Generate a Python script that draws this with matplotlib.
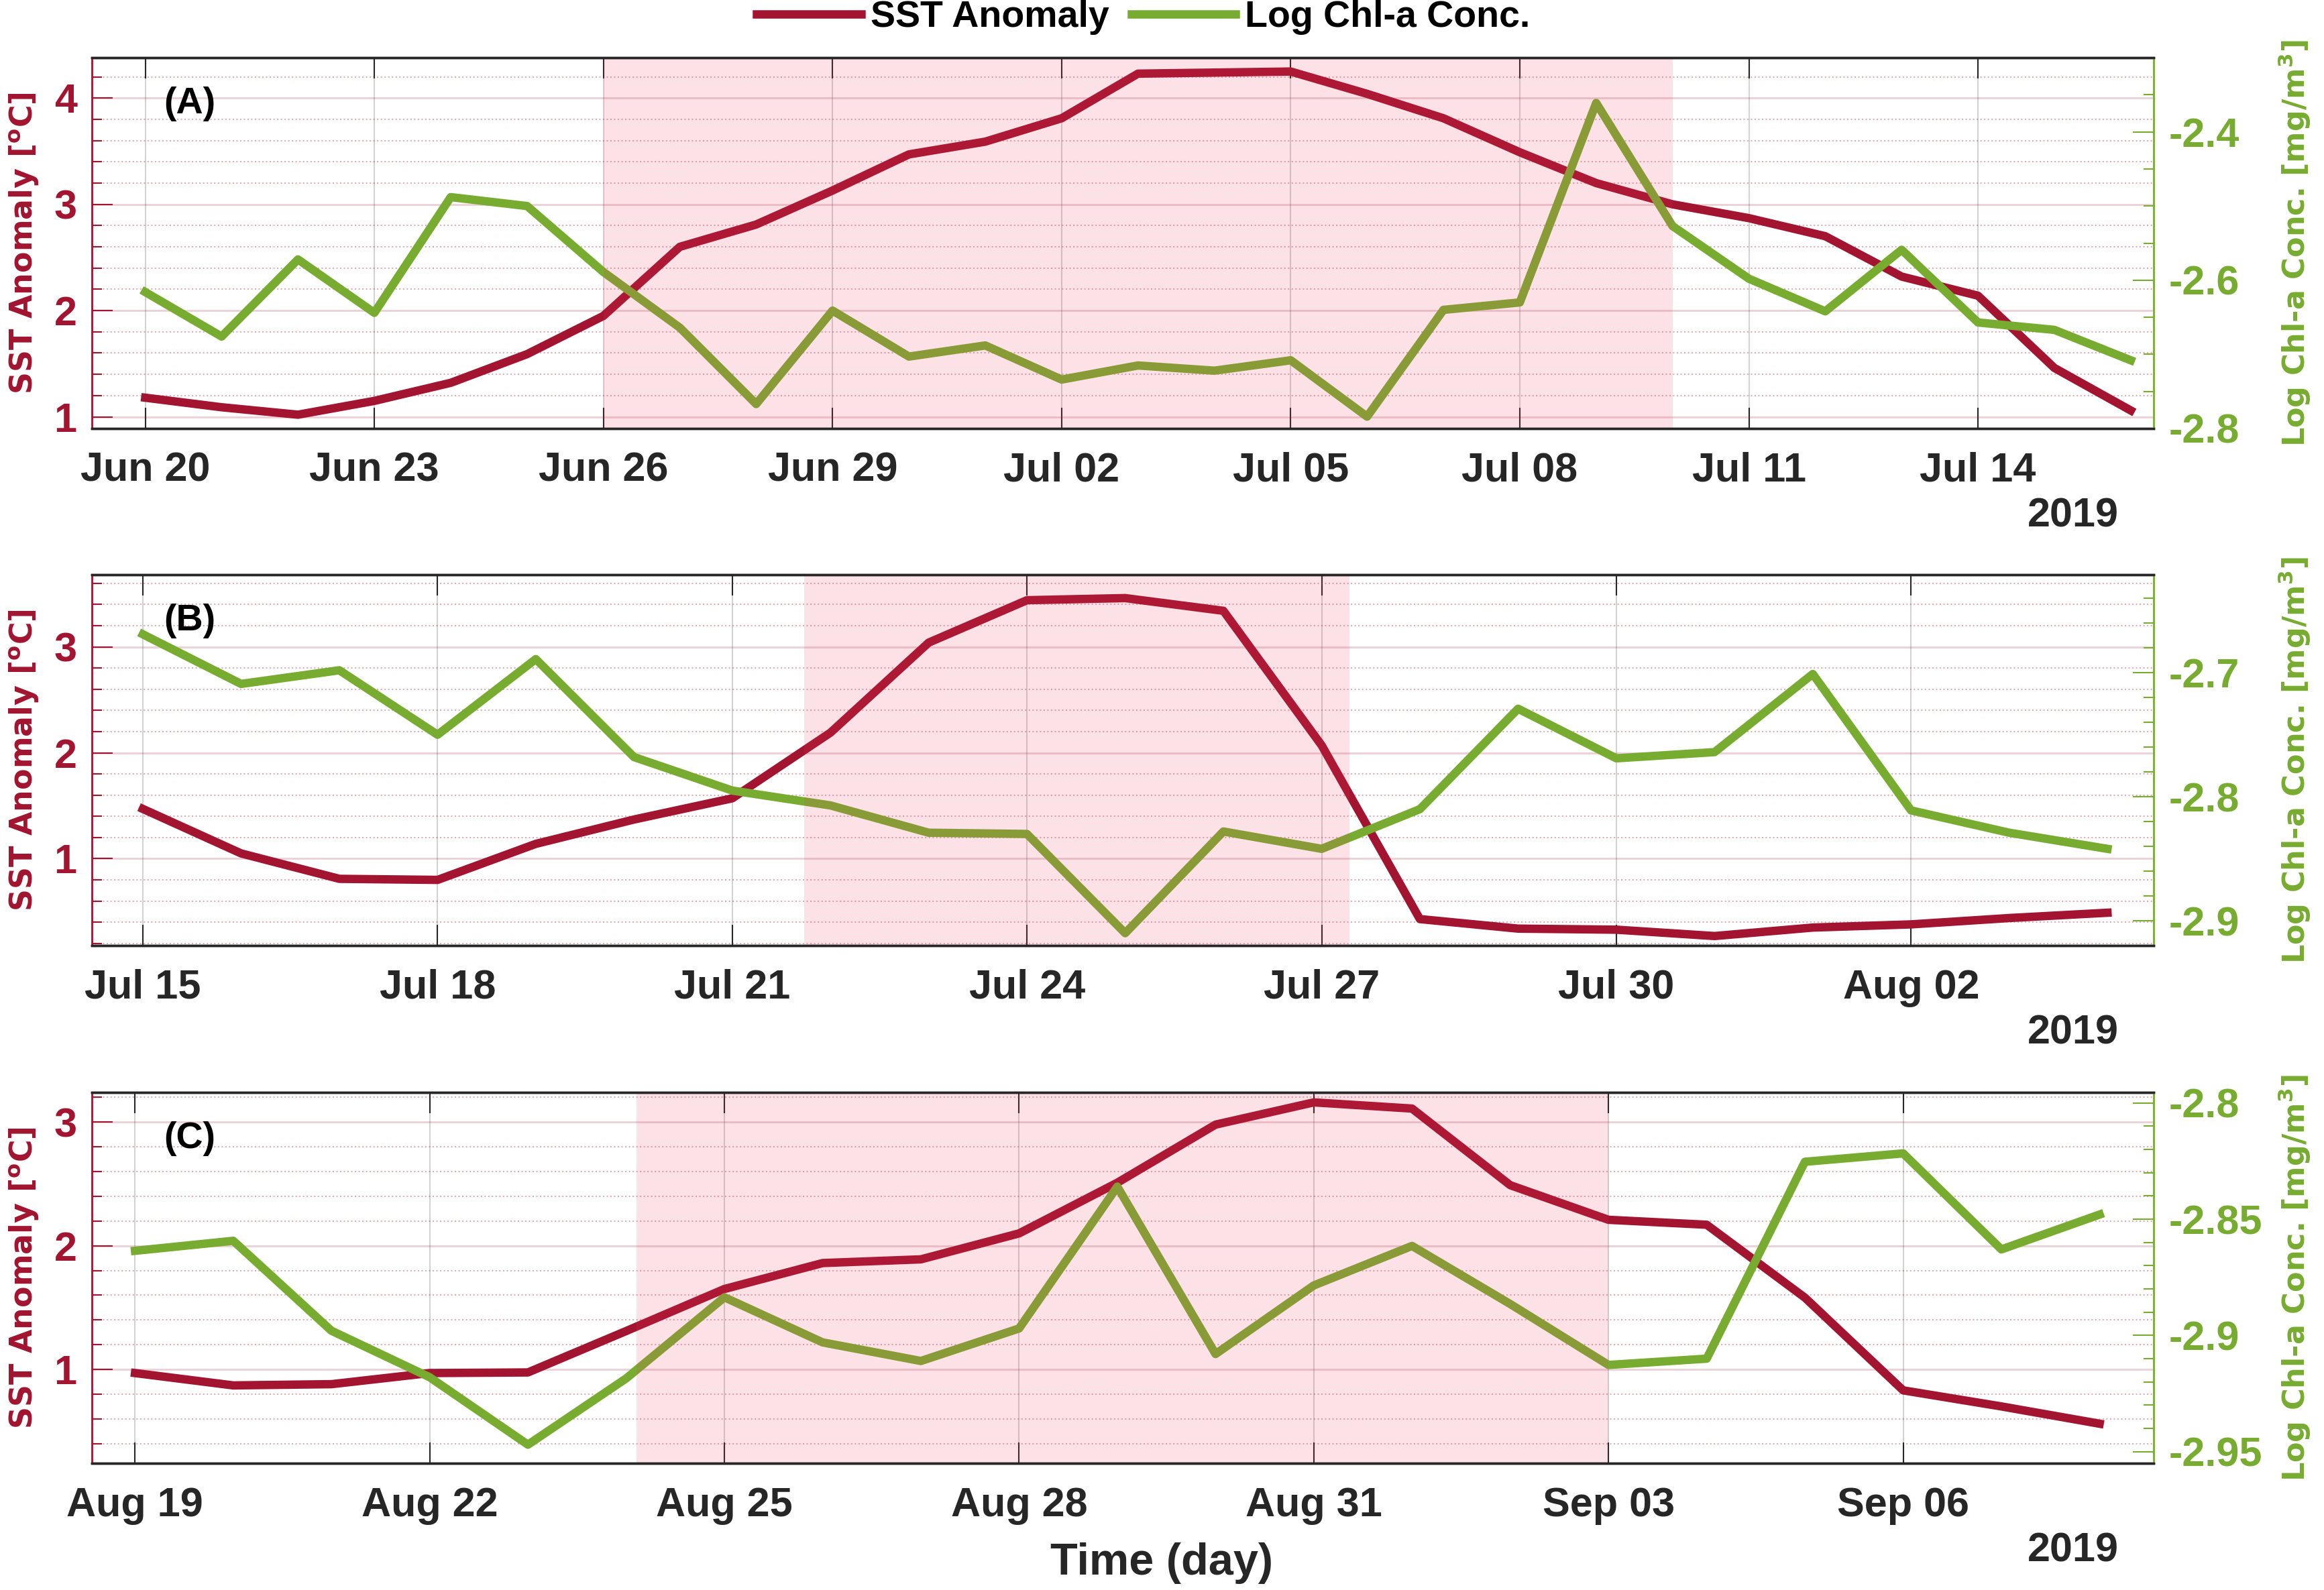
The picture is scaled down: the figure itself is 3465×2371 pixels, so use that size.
import numpy as np
import pandas as pd
import matplotlib
matplotlib.use('Agg')
import matplotlib.pyplot as plt
import matplotlib.dates as mdates
from matplotlib.ticker import FixedLocator, MultipleLocator, FuncFormatter

# ---- data ----
start_a = '2019-06-20'
sst_a = [1.18, 1.09, 1.02, 1.15, 1.32, 1.59, 1.95, 2.60, 2.81, 3.13, 3.47, 3.59, 3.81, 4.23,
         4.24, 4.25, 4.04, 3.81, 3.49, 3.20, 3.00, 2.87, 2.70, 2.32, 2.14, 1.46, 1.06]
chl_a = [-2.616, -2.676, -2.572, -2.644, -2.488, -2.500, -2.589, -2.664, -2.767, -2.641,
         -2.703, -2.688, -2.734, -2.715, -2.722, -2.708, -2.784, -2.640, -2.630, -2.361,
         -2.527, -2.598, -2.642, -2.559, -2.657, -2.667, -2.708]
shade_a = ('2019-06-26', '2019-07-10')

start_b = '2019-07-15'
sst_b = [1.47, 1.05, 0.81, 0.80, 1.14, 1.37, 1.57, 2.19, 3.04, 3.44, 3.46,
         3.34, 2.07, 0.43, 0.34, 0.33, 0.27, 0.35, 0.38, 0.44, 0.49]
chl_b = [-2.669, -2.709, -2.698, -2.750, -2.689, -2.768, -2.795, -2.807, -2.829, -2.830,
         -2.910, -2.828, -2.842, -2.810, -2.729, -2.769, -2.764, -2.701, -2.811, -2.829, -2.842]
shade_b = ('2019-07-21 17:30', '2019-07-27 06:45')

start_c = '2019-08-19'
sst_c = [0.97, 0.87, 0.88, 0.97, 0.975, 1.31, 1.65, 1.86, 1.89, 2.10, 2.51,
         2.98, 3.16, 3.11, 2.49, 2.21, 2.17, 1.58, 0.83, 0.70, 0.56]
chl_c = [-2.8636, -2.8593, -2.898, -2.918, -2.947, -2.9185, -2.8836, -2.903, -2.911, -2.897,
         -2.836, -2.908, -2.8785, -2.8615, -2.8865, -2.9127, -2.910, -2.8253, -2.8217, -2.863, -2.848]
shade_c = ('2019-08-24 02:30', '2019-09-03')

tags = ['(A)', '(B)', '(C)']
sst_lims = [(0.89, 4.38), (0.18, 3.68), (0.24, 3.24)]
sst_ticks = [[1, 2, 3, 4], [1, 2, 3], [1, 2, 3]]
chl_lims = [(-2.80, -2.30), (-2.92, -2.621), (-2.955, -2.7955)]
chl_ticks = [[-2.8, -2.6, -2.4], [-2.9, -2.8, -2.7], [-2.95, -2.9, -2.85, -2.8]]
chl_minor = [0.05, 0.02, 0.01]
x_pads = [(0.70, 0.30), (0.52, 0.47), (0.44, 0.55)]

RED = '#A2142F'
GREEN = '#77AC30'
DARK = '#262626'

plt.rcParams['font.family'] = ['Liberation Sans', 'DejaVu Sans']
plt.rcParams['font.weight'] = 'bold'
plt.rcParams['axes.unicode_minus'] = False

fig = plt.figure(figsize=(34.65, 23.71), dpi=100)

bottoms = [0.7305, 0.4053, 0.0797]
panels = [(start_a, sst_a, chl_a, shade_a), (start_b, sst_b, chl_b, shade_b),
          (start_c, sst_c, chl_c, shade_c)]

for i, (start, sst, chl, shade) in enumerate(panels):
    ax = fig.add_axes([0.0395, bottoms[i], 0.8872, 0.2332])
    ax2 = ax.twinx()
    x = mdates.date2num(pd.date_range(start, periods=len(sst), freq='D'))

    l1, = ax.plot(x, sst, color=RED, lw=9, zorder=2, label='SST Anomaly')
    l2, = ax2.plot(x, chl, color=GREEN, lw=9, zorder=2, label='Log Chl-a Conc.')
    ax2.axvspan(mdates.date2num(pd.Timestamp(shade[0])), mdates.date2num(pd.Timestamp(shade[1])),
                color='#F03C5A', alpha=0.15, lw=0, zorder=2.2)

    ax.set_xlim(x[0] - x_pads[i][0], x[-1] + x_pads[i][1])
    ax.set_ylim(*sst_lims[i])
    ax2.set_ylim(*chl_lims[i])

    ax.xaxis.set_major_locator(FixedLocator(x[::3]))
    ax.xaxis.set_major_formatter(mdates.DateFormatter('%b %d'))
    ax.yaxis.set_major_locator(FixedLocator(sst_ticks[i]))
    ax.yaxis.set_minor_locator(MultipleLocator(0.2))
    ax.yaxis.set_major_formatter(FuncFormatter(lambda v, p: '%g' % v))
    ax2.yaxis.set_major_locator(FixedLocator(chl_ticks[i]))
    ax2.yaxis.set_minor_locator(MultipleLocator(chl_minor[i]))
    ax2.yaxis.set_major_formatter(FuncFormatter(lambda v, p: '%g' % v))

    ax.grid(axis='y', which='major', color=RED, alpha=0.2, lw=2, ls='-')
    ax.grid(axis='y', which='minor', color=RED, alpha=0.35, lw=1.5, ls=':')
    ax.grid(axis='x', which='major', color='gray', alpha=0.35, lw=1.5)

    ax.tick_params(axis='x', which='major', direction='in', length=22, width=1.5,
                   top=True, bottom=True, color=DARK, labelcolor=DARK, labelsize=44, pad=25)
    ax.tick_params(axis='y', which='major', direction='in', length=22, width=1.5,
                   colors=RED, labelsize=44, pad=16)
    ax.tick_params(axis='y', which='minor', direction='in', length=11, width=1.5, colors=RED)
    ax2.tick_params(axis='y', which='major', direction='in', length=22, width=1.5,
                    colors=GREEN, labelsize=44, pad=16)
    ax2.tick_params(axis='y', which='minor', direction='in', length=11, width=1.5, colors=GREEN)

    for sp in ['top', 'bottom']:
        ax.spines[sp].set_color(DARK)
        ax.spines[sp].set_linewidth(2.5)
        ax2.spines[sp].set_color(DARK)
        ax2.spines[sp].set_linewidth(2.5)
    ax.spines['left'].set_color(RED)
    ax.spines['left'].set_linewidth(2)
    ax.spines['right'].set_visible(False)
    ax2.spines['left'].set_visible(False)
    ax2.spines['right'].set_color(GREEN)
    ax2.spines['right'].set_linewidth(2)

    ax.set_ylabel(r'SST Anomaly [$^{\mathbf{o}}$C]', color=RED, fontsize=33,
                  family='DejaVu Sans', weight='bold')
    ax.yaxis.set_label_coords(-0.0247, 0.5)
    ax2.set_ylabel(r'Log Chl-a Conc. [mg/m$^{\mathbf{3}}$]', color=GREEN, fontsize=32,
                   family='DejaVu Sans', weight='bold')
    ax2.yaxis.set_label_coords(1.0598, 0.5)

    ax.text(0.035, 0.875, tags[i], transform=ax.transAxes, fontsize=40, weight='bold',
            ha='left', va='center', zorder=10)
    ax.text(0.983, -0.237, '2019', transform=ax.transAxes, fontsize=44, weight='bold',
            ha='right', va='center', color=DARK)

    if i == 0:
        fig.legend(handles=[l1, l2], loc='center', bbox_to_anchor=(0.492, 0.989), ncol=2,
                   frameon=False, prop=dict(size=40, weight='bold'), handlelength=2.8,
                   handletextpad=0.25, columnspacing=0.6)

fig.text(0.5, 0.017, 'Time (day)', ha='center', va='center', fontsize=48, weight='bold',
         color=DARK)

fig.savefig('out.png', dpi=100)
